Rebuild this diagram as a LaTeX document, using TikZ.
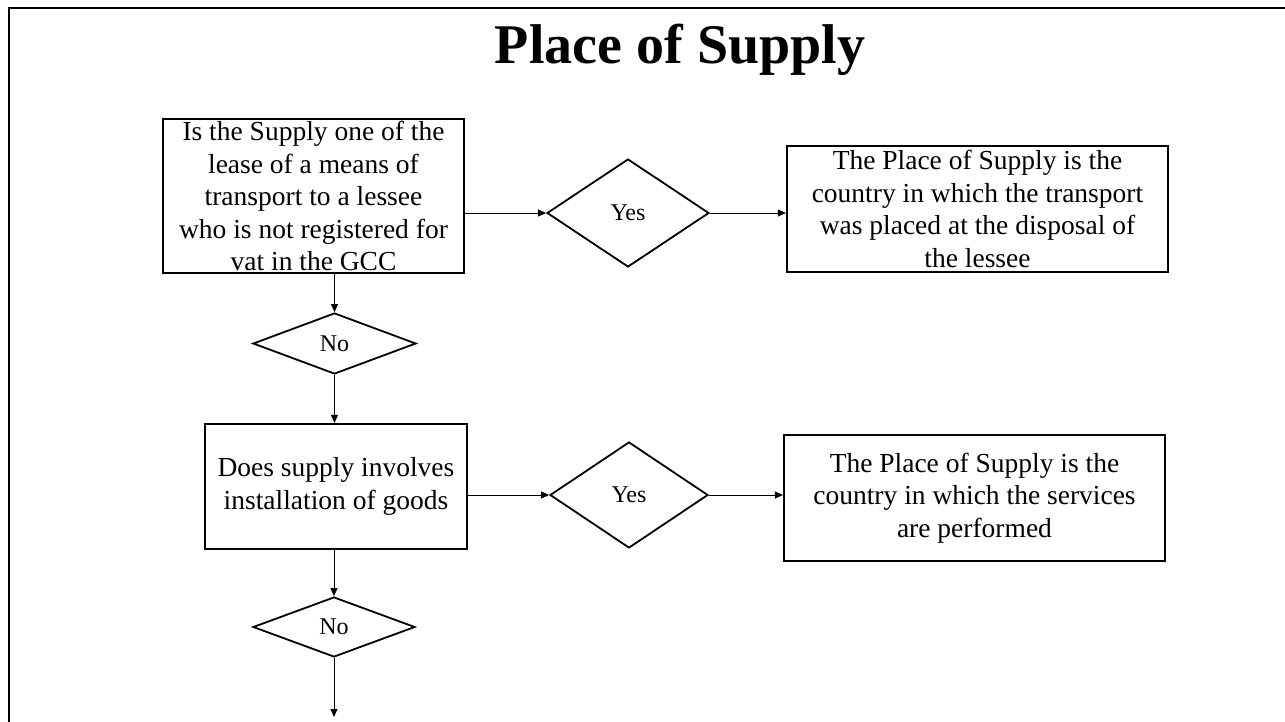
\documentclass[tikz,border=0pt]{standalone}
\usepackage{fontspec}
\setmainfont{Liberation Serif}
\usetikzlibrary{shapes.geometric,arrows.meta}

\tikzset{
  caja/.style={draw, line width=2.2pt, rectangle, inner sep=0pt, align=center,
    font=\fontsize{27.5}{32.5}\selectfont},
  rombo/.style={draw, line width=1.8pt, diamond, inner sep=0pt,
    font=\fontsize{24}{28}\selectfont},
  flecha/.style={line width=0.9pt, -{Triangle[length=8pt,width=7pt]}}
}

\begin{document}
\begin{tikzpicture}[x=1pt,y=-1pt]
        % Paso 1: Fija el marco de la lamina
        \useasboundingbox (0,0) rectangle (1285,721);
        \clip (0,0) rectangle (1285,721);
        \draw[line width=2.6pt] (9,730) -- (9,8) -- (1295,8);

        % Paso 2: Titulo
        \node (titulo) at (680,50) {\fontsize{56}{60}\selectfont\bfseries Place of Supply};

        % Paso 3: Primera pregunta y su respuesta
        \node[caja, minimum width=301pt, minimum height=154pt] (caja1) at (313.5,196)
            {Is the Supply one of the\\ lease of a means of\\ transport to a lessee\\
             who is not registered for\\ vat in the GCC};
        \node[rombo, minimum width=162pt, minimum height=108pt] (si1) at (628,213) {Yes};
        \node[caja, minimum width=381pt, minimum height=126pt] (caja2) at (977.5,209)
            {The Place of Supply is the\\ country in which the transport\\
             was placed at the disposal of\\ the lessee};
        \node[rombo, minimum width=163pt, minimum height=61pt] (no1) at (334.5,343.5) {No};

        % Paso 4: Segunda pregunta y su respuesta
        \node[caja, minimum width=262pt, minimum height=125pt] (caja3) at (336,486.5)
            {Does supply involves\\ installation of goods};
        \node[rombo, minimum width=158pt, minimum height=106pt] (si2) at (629,495) {Yes};
        \node[caja, minimum width=381pt, minimum height=126pt] (caja4) at (974.5,498)
            {The Place of Supply is the\\ country in which the services\\ are performed};
        \node[rombo, minimum width=162pt, minimum height=60pt] (no2) at (334,627) {No};
        \coordinate (fin) at (334,717);

        % Paso 5: Conectores
        \draw[flecha] (caja1.south -| no1) -- (no1.north);
        \draw[flecha] (no1.south) -- (no1.south |- caja3.north);
        \draw[flecha] (caja1.east |- si1) -- (si1.west);
        \draw[flecha] (si1.east) -- (si1.east -| caja2.west);
        \draw[flecha] (caja3.east |- si2) -- (si2.west);
        \draw[flecha] (si2.east) -- (si2.east -| caja4.west);
        \draw[flecha] (caja3.south -| no2) -- (no2.north);
        \draw[flecha] (no2.south) -- (fin);
    \end{tikzpicture}
\end{document}
